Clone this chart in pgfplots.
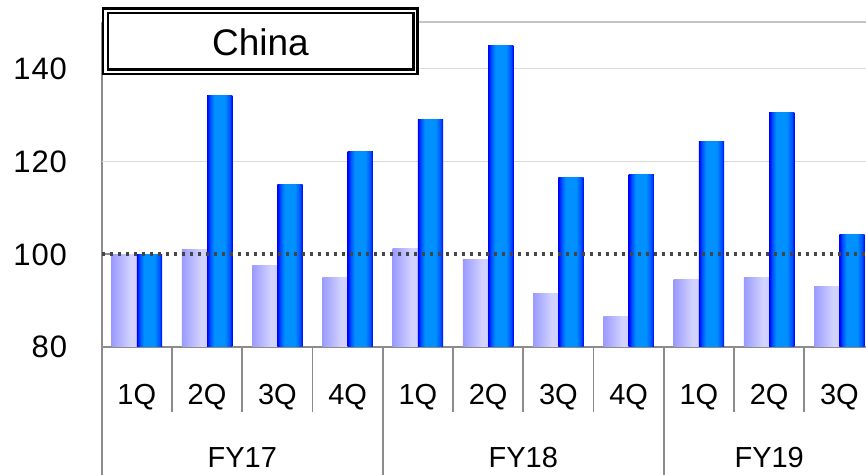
\documentclass[border=0pt]{standalone}
\usepackage{pgfplots}
\pgfplotsset{compat=1.18}
\usepackage{fontspec}
\setmainfont{Liberation Sans}

\definecolor{axisgray}{HTML}{8C8C8C}
\definecolor{gridgray}{HTML}{DADADA}
\definecolor{topgray}{HTML}{C4C4C4}
\definecolor{dotgray}{HTML}{454545}
\definecolor{lavA}{HTML}{9A9AFF}
\definecolor{lavB}{HTML}{D2D2FF}
\definecolor{lavC}{HTML}{C2C2FF}
\definecolor{bluA}{HTML}{0000FF}
\definecolor{bluM}{HTML}{0050FF}
\definecolor{bluB}{HTML}{0090FF}

% left-to-right shadings for the two bar series
\pgfdeclarehorizontalshading{lavbar}{100bp}{color(0bp)=(lavA); color(25bp)=(lavA); color(62bp)=(lavB); color(72bp)=(lavB); color(75bp)=(lavC); color(100bp)=(lavC)}
\pgfdeclarehorizontalshading{blubar}{100bp}{color(0bp)=(bluA); color(25bp)=(bluA); color(31bp)=(bluM); color(39bp)=(bluB); color(60bp)=(bluB); color(70bp)=(bluM); color(75bp)=(bluA); color(100bp)=(bluA)}

% one bar per plot, so that each bar gets its own shading
\newcommand\prevbar[2]{\addplot[ybar, bar width=0.36, bar shift=-0.18, draw=none, shading=lavbar] coordinates {(#1,#2)};}
\newcommand\currbar[2]{\addplot[ybar, bar width=0.36, bar shift=0.18, draw=none, shading=blubar] coordinates {(#1,#2)};}

\begin{document}
\begin{tikzpicture}[x=1pt,y=1pt]
\begin{axis}[
  at={(0,0)}, anchor=south west,
  scale only axis, width=764.3pt, height=324.45pt,
  xmin=-0.5, xmax=10.378, ymin=80, ymax=150,
  axis x line*=bottom, axis y line*=left,
  axis line style={draw=axisgray, line width=1.8pt},
  clip=false,
  xtick={0,...,10},
  xticklabels={1Q,2Q,3Q,4Q,1Q,2Q,3Q,4Q,1Q,2Q,3Q},
  extra x ticks={1.5,5.5,9},
  extra x tick labels={FY17,FY18,FY19},
  extra x tick style={xticklabel style={yshift=-63pt}},
  x tick style={draw=none},
  ytick={80,100,120,140},
  yticklabels={80,100,120,140},
  tick align=inside, major tick length=11pt,
  y tick style={draw=axisgray, line width=1.5pt},
  xticklabel style={font=\fontsize{29}{34}\selectfont, anchor=base, inner sep=0pt, yshift=-57.3pt},
  yticklabel style={font=\fontsize{31}{36}\selectfont\addfontfeatures{LetterSpace=3}, anchor=base east, inner sep=0pt, xshift=-34.5pt, yshift=-11pt},
]
% reference gridlines behind the bars
\draw[gridgray, line width=1.3pt] (axis cs:-0.5,120) -- (axis cs:10.378,120);
\draw[gridgray, line width=1.3pt] (axis cs:-0.5,140) -- (axis cs:10.378,140);
\draw[topgray, line width=2pt] (axis cs:-0.5,150) -- (axis cs:10.378,150);

% previous-year index (light bars)
\prevbar{0}{100.0}  \prevbar{1}{100.9}  \prevbar{2}{97.6}  \prevbar{3}{95.0}
\prevbar{4}{101.1}  \prevbar{5}{98.9}   \prevbar{6}{91.4}  \prevbar{7}{86.6}
\prevbar{8}{94.4}   \prevbar{9}{95.0}   \prevbar{10}{92.9}
% current index (blue bars)
\currbar{0}{100.0}  \currbar{1}{134.1}  \currbar{2}{114.9} \currbar{3}{122.2}
\currbar{4}{129.1}  \currbar{5}{144.9}  \currbar{6}{116.6} \currbar{7}{117.1}
\currbar{8}{124.2}  \currbar{9}{130.6}  \currbar{10}{104.3}

% index line at 100
\draw[dotgray, line width=3.4pt, dash pattern=on 3.4pt off 4.6pt] (axis cs:-0.5,100) -- (axis cs:10.378,100);

% quarter and fiscal-year separators below the axis
\pgfplotsinvokeforeach{0.5,1.5,2.5,4.5,5.5,6.5,8.5,9.5}{
  \draw[axisgray, line width=1.8pt] (axis cs:#1,80) -- ++(0pt,-65pt);
}
\pgfplotsinvokeforeach{-0.5,3.5,7.5}{
  \draw[axisgray, line width=1.8pt] (axis cs:#1,80) -- ++(0pt,-130pt);
}
\end{axis}

% title box
\begin{scope}[shift={(-101.7pt,346.7pt)}, yscale=-1]
  \draw[line width=2.7pt, fill=white] (103,8.7) rectangle (417.7,74);
  \draw[line width=2.7pt] (108,13) rectangle (413.7,69.5);
  \node[font=\fontsize{37}{44}\selectfont, anchor=base] at (260.5,55.5) {China};
\end{scope}

\pgfresetboundingbox
\path (-101.7pt,-127.3pt) rectangle (764.3pt,346.7pt);
\end{tikzpicture}
\end{document}
